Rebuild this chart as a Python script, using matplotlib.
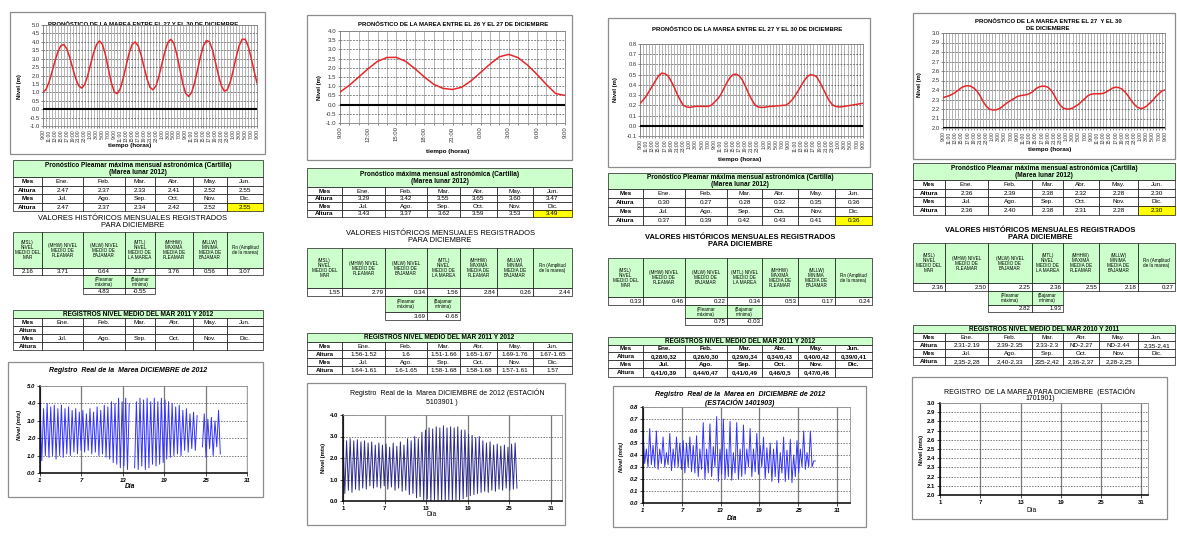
import numpy as np
import matplotlib.pyplot as plt
from matplotlib.patches import Rectangle

plt.rcParams['font.family'] = ['Liberation Sans', 'DejaVu Sans']

W, H = 1177, 540
VERDE = '#ccffcc'
AMARILLO = '#ffff00'

# ---------------- datos ----------------
meses_1 = ["Ene.", "Feb.", "Mar.", "Abr.", "May.", "Jun."]
meses_2 = ["Jul.", "Ago.", "Sep.", "Oct.", "Nov.", "Dic."]

# pronóstico horario (m) desde las 9:00
pron_a = [1.02, 1.17, 1.59, 2.19, 2.84, 3.41, 3.77, 3.84, 3.59, 3.08, 2.43, 1.82, 1.39,
          1.25, 1.46, 1.97, 2.65, 3.33, 3.84, 4.05, 3.85, 3.24, 2.39, 1.56, 1.02, 0.92,
          1.22, 1.84, 2.61, 3.34, 3.84, 4.00, 3.77, 3.22, 2.50, 1.80, 1.30, 1.15, 1.38,
          1.95, 2.69, 3.42, 3.96, 4.15, 3.92, 3.27, 2.41, 1.55, 0.94, 0.75, 0.99, 1.56,
          2.34, 3.14, 3.77, 4.08, 4.00, 3.54, 2.81, 2.03, 1.39, 1.07, 1.15, 1.60, 2.31,
          3.10, 3.77, 4.15, 4.15, 3.76, 3.08, 2.28, 1.56]
pron_b = [0.68, 1.05, 1.50, 1.95, 2.35, 2.56, 2.57, 2.35, 1.95, 1.50, 1.10, 0.88, 0.82,
          0.95, 1.30, 1.75, 2.20, 2.60, 2.73, 2.55, 2.15, 1.65, 1.10, 0.60, 0.50]
pron_c = [0.22, 0.25, 0.29, 0.34, 0.39, 0.44, 0.49, 0.515, 0.51, 0.49, 0.44, 0.38, 0.31,
          0.25, 0.20, 0.185, 0.18, 0.185, 0.19, 0.19, 0.19, 0.19, 0.19, 0.20, 0.23, 0.26,
          0.30, 0.36, 0.42, 0.47, 0.50, 0.505, 0.49, 0.45, 0.39, 0.32, 0.26, 0.21, 0.185,
          0.18, 0.18, 0.185, 0.19, 0.19, 0.195, 0.195, 0.20, 0.20, 0.22, 0.25, 0.29, 0.34,
          0.39, 0.44, 0.48, 0.50, 0.495, 0.48, 0.43, 0.37, 0.31, 0.25, 0.21, 0.19, 0.185,
          0.185, 0.19, 0.195, 0.20, 0.205, 0.21, 0.215, 0.22]
pron_d = [2.32, 2.33, 2.34, 2.355, 2.375, 2.40, 2.425, 2.44, 2.445, 2.44, 2.42, 2.39,
          2.34, 2.28, 2.23, 2.20, 2.19, 2.19, 2.20, 2.22, 2.245, 2.27, 2.29, 2.31, 2.33,
          2.34, 2.345, 2.35, 2.36, 2.38, 2.41, 2.43, 2.44, 2.44, 2.43, 2.40, 2.35, 2.29,
          2.24, 2.21, 2.20, 2.20, 2.21, 2.23, 2.25, 2.28, 2.31, 2.34, 2.355, 2.36, 2.36,
          2.36, 2.365, 2.38, 2.40, 2.42, 2.43, 2.425, 2.41, 2.38, 2.34, 2.29, 2.25, 2.22,
          2.205, 2.21, 2.23, 2.26, 2.29, 2.33, 2.36, 2.39, 2.40]

# pleamar máxima mensual (Cartilla)
cartilla_a = [2.47, 2.37, 2.33, 2.41, 2.52, 2.55, 2.47, 2.37, 2.34, 2.42, 2.52, 2.55]
cartilla_b = [3.29, 3.42, 3.55, 3.65, 3.60, 3.47, 3.43, 3.37, 3.62, 3.59, 3.53, 3.49]
cartilla_c = [0.30, 0.27, 0.28, 0.32, 0.35, 0.36, 0.37, 0.39, 0.42, 0.43, 0.41, 0.36]
cartilla_d = [2.36, 2.39, 2.38, 2.32, 2.28, 2.30, 2.36, 2.40, 2.38, 2.31, 2.28, 2.30]

# valores históricos de diciembre: MSL, MHW, MLW, MTL, MHHW, MLLW, Rn
hist_a = [2.16, 3.71, 0.64, 2.17, 3.76, 0.56, 3.07]
hist_b = [1.55, 2.79, 0.34, 1.56, 2.84, 0.26, 2.44]
hist_c = [0.33, 0.46, 0.22, 0.34, 0.53, 0.17, 0.24]
hist_d = [2.36, 2.50, 2.25, 2.36, 2.55, 2.18, 0.27]
# pleamar máxima, bajamar mínima
extremos_a = [4.83, -0.55]
extremos_b = [3.69, -0.68]
extremos_c = [0.75, -0.03]
extremos_d = [2.82, 1.93]

# nivel medio del mar por mes
nm_a = [""] * 12
nm_b = ["1.56-1.52", "1.6", "1.51-1.66", "1.65-1.67", "1.69-1.76", "1.67-1.65",
        "1.64-1.61", "1.6-1.65", "1.58-1.68", "1.58-1.68", "1.57-1.61", "1.57"]
nm_c = ["0,28/0,32", "0,26/0,30", "0,29/0,34", "0,34/0,43", "0,40/0,42", "0,39/0,41",
        "0,41/0,39", "0,44/0,47", "0,41/0,49", "0,46/0,5", "0,47/0,46", ""]
nm_d = ["2.31-2.19", "2.39-2.35", "2.33-2.3", "ND-2.27", "ND-2.44", "2,35-2,41",
        "2,35-2,28", "2,40-2,33", "235-2,42", "2,36-2,37", "2,28-2,25", ""]

# registro real de diciembre: pleamares y bajamares sucesivas (m)
nan = np.nan
alta_a = [4.0, 3.7, 4.0, 3.8, 3.9, 3.7, 3.9, 3.7, 3.8, 3.6, 3.7, 3.5, 3.6, 3.4, 3.7, 3.5, 3.8,
          3.6, 3.9, 3.8, 4.1, 4.0, 4.3, 4.1, 4.3, 4.0, nan, 4.1, 4.3, 4.2, 4.3, 4.1, 4.3, 4.1,
          4.3, 4.2, 4.1, 4.0, 3.8, 3.9, 3.6, 3.7, 3.4, 3.5, 3.3, nan, 3.4, 3.1, 3.2, 3.0, 3.6]
baja_a = [0.7, 1.0, 0.9, 1.0, 0.8, 1.0, 0.9, 1.1, 1.0, 1.2, 1.1, 1.3, 1.2, 1.3, 1.1, 1.2, 1.0,
          1.1, 0.9, 0.8, 0.6, 0.5, 0.3, 0.4, 0.2, nan, 0.3, 0.2, 0.4, 0.2, 0.3, 0.5, 0.4, 0.5,
          0.6, 0.8, 0.9, 1.0, 1.1, 1.0, 1.3, 1.2, 1.4, 1.3, nan, 1.5, 0.9, 1.4, 1.0, 1.5, 1.1]
alta_b = [2.85, 2.8, 2.9, 2.8, 2.85, 2.75, 2.8, 2.7, 2.75, 2.6, 2.7, 2.6, 2.65, 2.5, 2.7, 2.55,
          2.75, 2.6, 2.9, 2.8, 3.0, 2.9, 3.2, 3.3, 3.4, 3.35, 3.45, 3.4, 3.5, 3.4, 3.45, 3.4,
          3.45, 3.3, 3.3, 3.1, 3.05, 2.95, 3.0, 2.8, 2.7, 2.75, 2.6, 2.65, 2.55, 2.6, 2.5,
          2.65, 2.7]
baja_b = [0.35, 0.5, 0.4, 0.55, 0.5, 0.6, 0.55, 0.7, 0.6, 0.65, 0.6, 0.7, 0.55, 0.65, 0.5,
          0.6, 0.45, 0.5, 0.3, 0.35, 0.15, 0.2, 0.05, 0.1, 0.0, 0.05, 0.0, 0.02, 0.0, 0.05,
          0.0, 0.02, 0.05, 0.1, 0.2, 0.25, 0.3, 0.35, 0.4, 0.45, 0.4, 0.5, 0.45, 0.55, 0.5,
          0.6, 0.5, 0.55, 0.6]
alta_c = [0.6, 0.45, 0.62, 0.48, 0.6, 0.45, 0.55, 0.42, 0.58, 0.45, 0.55, 0.5, 0.52, 0.5,
          0.55, 0.48, 0.56, 0.45, 0.67, 0.45, 0.66, 0.47, 0.72, 0.45, 0.7, 0.45, 0.68, 0.42,
          0.67, 0.45, 0.65, 0.45, 0.62, 0.45, 0.58, 0.48, 0.55, 0.46, 0.5, 0.45, 0.52, 0.42,
          0.55, 0.44, 0.53, 0.4, 0.52, 0.45, 0.6, 0.42, 0.6, 0.35]
baja_c = [0.33, 0.3, 0.32, 0.3, 0.28, 0.33, 0.3, 0.32, 0.27, 0.3, 0.3, 0.28, 0.25, 0.3,
          0.26, 0.25, 0.22, 0.28, 0.2, 0.25, 0.22, 0.3, 0.18, 0.24, 0.2, 0.22, 0.19, 0.25,
          0.2, 0.22, 0.24, 0.3, 0.22, 0.26, 0.24, 0.3, 0.2, 0.25, 0.18, 0.22, 0.17, 0.25,
          0.18, 0.2, 0.17, 0.22, 0.25, 0.3, 0.28, 0.3, 0.3, 0.35]

cab_hist = ["(MSL)\nNIVEL\nMEDIO DEL\nMAR", "(MHW) NIVEL\nMEDIO DE\nPLEAMAR",
            "(MLW) NIVEL\nMEDIO DE\nBAJAMAR", "(MTL)\nNIVEL\nMEDIO DE\nLA MAREA",
            "(MHHW)\nMAXIMA\nMEDIA DE\nPLEAMAR", "(MLLW)\nMINIMA\nMEDIA DE\nBAJAMAR",
            "Rn (Amplitud\nde la marea)"]
cab_hist_c = cab_hist[:3] + ["(MTL) NIVEL\nMEDIO DE\nLA MAREA"] + cab_hist[4:]
cab_extremos = ["(Pleamar\nmáxima)", "(Bajamar\nmínima)"]

# ---------------- figura ----------------
fig = plt.figure(figsize=(W / 100, H / 100), dpi=100)
canvas = fig.add_axes([0, 0, 1, 1])
canvas.set_xlim(0, W)
canvas.set_ylim(H, 0)
canvas.axis('off')


def px_axes(x0, y0, x1, y1):
    return fig.add_axes([x0 / W, 1 - y1 / H, (x1 - x0) / W, (y1 - y0) / H])


def txt(x, y, s, size=4.5, weight='normal', style='normal', rot=0, ha='center'):
    canvas.text(x, y, s, ha=ha, va='center', fontsize=size, fontweight=weight,
                fontstyle=style, rotation=rot, linespacing=1.05)


def cell(x0, y0, x1, y1, s='', fc='white', size=4.5, weight='normal', ha='center'):
    canvas.add_patch(Rectangle((x0, y0), x1 - x0, y1 - y0, fc=fc, ec='black', lw=0.45))
    if s:
        tx = {'center': (x0 + x1) / 2, 'right': x1 - 1.5, 'left': x0 + 1.5}[ha]
        canvas.text(tx, (y0 + y1) / 2 + 0.3, s, ha=ha, va='center', fontsize=size,
                    fontweight=weight, linespacing=1.0)


def frame(box):
    x0, y0, x1, y1 = box
    canvas.add_patch(Rectangle((x0, y0), x1 - x0, y1 - y0, fc='white', ec='#8c8c8c', lw=0.9))


def forecast(p, nivel, ymin, ymax, ystep, xstep, labelsize):
    frame(p['frame'])
    horas = np.arange(len(nivel))
    ax = px_axes(*p['plot'])
    ax.plot(horas, nivel, color='#e8262a', lw=1.1, zorder=4)
    ax.set_xlim(horas[0], horas[-1])
    ax.set_ylim(ymin, ymax)
    yt = np.arange(ymin, ymax + ystep / 2, ystep)
    ax.set_yticks(yt)
    ax.set_yticklabels([f"{v:.1f}" for v in yt], fontsize=p.get('ysize', 4.0))
    xt = horas[::xstep]
    ax.set_xticks(xt)
    ax.set_xticklabels([f"{(9 + h) % 24}:00" for h in xt], rotation=90, fontsize=labelsize)
    ax.set_xticks(horas, minor=True)
    ax.tick_params(which='both', length=1.5, width=0.4, pad=1, colors='#333333')
    ax.grid(which='both', axis='x', color='#8a8a8a', lw=0.45)
    ax.grid(which='major', axis='y', color='#404040', lw=0.45, ls=(0, (3, 2)))
    ax.axhline(0 if ymin < 0 else ymin, color='black', lw=1.5, zorder=3)
    ax.set_axisbelow(True)
    for s in ax.spines.values():
        s.set_color('#808080')
        s.set_linewidth(0.6)
    for (x, y, s) in p['titulo']:
        txt(x, y, s, size=4.3, weight='bold')
    txt(*p['xlab'], 'tiempo (horas)', size=4.5, weight='bold')
    txt(*p['ylab'], 'Nivel (m)', size=4.2, weight='bold', rot=90)


def registro(p, alta, baja, ymin, ymax, ystep, color, estilo):
    frame(p['frame'])
    ax = px_axes(*p['plot'])
    if alta is not None:
        t_alta = 1 + np.arange(len(alta)) * 0.5175
        t = np.column_stack([t_alta, t_alta + 0.2588]).ravel()
        y = np.column_stack([alta, baja]).ravel()
        ax.plot(t, y, color=color, lw=0.7)
    ax.set_xlim(1, p['xmax'])
    ax.set_ylim(ymin, ymax)
    ax.set_xticks([1, 7, 13, 19, 25, 31])
    yt = np.arange(ymin, ymax + ystep / 2, ystep)
    ax.set_yticks(yt)
    ax.set_yticklabels([f"{v:.1f}" for v in yt])
    ax.tick_params(labelsize=4.3, length=2, width=0.5, pad=1.5)
    for lbl in ax.get_xticklabels() + ax.get_yticklabels():
        lbl.set_fontweight('bold')
        lbl.set_fontstyle(estilo)
    ax.grid(axis='x', color='#7a7a7a', lw=0.9)
    ax.grid(axis='y', color='#404040', lw=0.5, ls=(0, (2, 2)))
    ax.set_axisbelow(True)
    for k, s in ax.spines.items():
        if k in ('left', 'bottom'):
            s.set_color('black')
            s.set_linewidth(1.1)
        else:
            s.set_color('#909090')
            s.set_linewidth(0.6)
    for (x, y, s) in p['titulo']:
        txt(x, y, s, size=5.0, weight=p['tw'], style=estilo)
    txt(*p['xlab'], 'Día', size=4.8, weight=p['tw'], style=estilo)
    txt(*p['ylab'], 'Nivel (mts)', size=4.2, weight='bold', style=estilo, rot=90)


def tablas(p, titulo1, cartilla, cabeceras, hist, extremos, titulo3, nivel_medio):
    xs = p['cols']
    # pronóstico pleamar máxima mensual
    t0, t1, *r = p['t1']
    cell(xs[0], t0, xs[-1], t1, titulo1, fc=VERDE, size=4.7, weight='bold')
    filas = [["Mes"] + meses_1, ["Altura"] + [f"{v:.2f}" for v in cartilla[:6]],
             ["Mes"] + meses_2, ["Altura"] + [f"{v:.2f}" for v in cartilla[6:]]]
    for i, fila in enumerate(filas):
        for j, s in enumerate(fila):
            fc = AMARILLO if (i == 3 and j == 6) else 'white'
            cell(xs[j], r[i], xs[j + 1], r[i + 1], s, fc=fc,
                 weight='bold' if j == 0 else 'normal', size=4.6)
    # valores históricos
    txt(p['hx'], p['hy'], "VALORES HISTÓRICOS MENSUALES REGISTRADOS\nPARA DICIEMBRE",
        size=5.4, weight=p['hw'])
    h0, h1, v1, s1, e1 = p['t2']
    for j in range(7):
        cell(xs[j], h0, xs[j + 1], h1, cabeceras[j], fc=VERDE, size=3.3)
        cell(xs[j], h1, xs[j + 1], v1, f"{hist[j]:.2f}", size=4.4, ha=p['ha2'])
    for k, j in enumerate((2, 3)):
        cell(xs[j], v1, xs[j + 1], s1, cab_extremos[k], fc=VERDE, size=3.3)
        cell(xs[j], s1, xs[j + 1], e1, f"{extremos[k]:.2f}", size=4.4, ha=p['ha2'])
    # nivel medio del mar
    t0, t1, *r = p['t3']
    cell(xs[0], t0, xs[-1], t1, titulo3, fc=VERDE, size=4.7, weight='bold')
    filas = [["Mes"] + meses_1, ["Altura"] + nivel_medio[:6],
             ["Mes"] + meses_2, ["Altura"] + nivel_medio[6:]]
    for i, fila in enumerate(filas):
        for j, s in enumerate(fila):
            w = 'bold' if (j == 0 or p['bold3']) else 'normal'
            cell(xs[j], r[i], xs[j + 1], r[i + 1], s, weight=w, size=4.5)


# ---------------- posiciones (px) ----------------
col_a = dict(frame=(10, 12, 265, 154), plot=(43, 25, 257, 126), ysize=4.2,
             titulo=[(143, 24, "PRONÓSTICO DE LA MAREA ENTRE EL 27 Y EL 30 DE DICIEMBRE")],
             xlab=(130, 146), ylab=(20, 87),
             cols=[13, 42, 83, 125, 155, 193, 227, 263],
             t1=[160, 177, 177, 185.5, 194, 202.5, 211], hx=133, hy=222, hw='normal',
             t2=[232, 268, 275, 288, 294], ha2='center',
             t3=[310, 318, 318, 326, 334, 342, 350], bold3=False)
reg_a = dict(frame=(8, 362, 263, 497), plot=(40, 386, 247, 473), xmax=31,
             titulo=[(128, 370, "Registro  Real de la  Marea DICIEMBRE de 2012")],
             tw='bold', xlab=(130, 487), ylab=(19, 425))

col_b = dict(frame=(307, 15, 572, 160), plot=(340, 31, 565, 123), ysize=4.4,
             titulo=[(453, 24, "PRONÓSTICO DE LA MAREA ENTRE EL 26 Y EL 27 DE DICIEMBRE")],
             xlab=(448, 151), ylab=(319, 88),
             cols=[307, 342, 385, 427, 460, 497, 533, 572],
             t1=[168, 187, 187, 194.5, 202, 209.5, 217], hx=440, hy=237, hw='normal',
             t2=[248, 288, 296, 312, 320], ha2='right',
             t3=[333, 342, 342, 350, 358, 366, 374], bold3=False)
reg_b = dict(frame=(307, 383, 565, 525), plot=(343, 415, 562, 501), xmax=32.6,
             titulo=[(447, 393, "Registro  Real de la  Marea DICIEMBRE de 2012 (ESTACIÓN"),
                     (442, 402, "5103901 )")],
             tw='normal', xlab=(432, 515), ylab=(323, 458))

col_c = dict(frame=(608, 18, 870, 167), plot=(640, 44, 863, 136), ysize=4.2,
             titulo=[(747, 29, "PRONÓSTICO DE LA MAREA ENTRE EL 27 Y EL 30 DE DICIEMBRE")],
             xlab=(740, 160), ylab=(615, 90),
             cols=[608, 643, 685, 727, 762, 798, 835, 872],
             t1=[173, 189, 189, 198, 207, 216, 225], hx=740, hy=241, hw='bold',
             t2=[258, 297, 305, 318, 325], ha2='right',
             t3=[337, 345, 345, 352, 360, 368, 377], bold3=True)
reg_c = dict(frame=(613, 386, 866, 527), plot=(643, 407, 850, 503), xmax=33,
             titulo=[(740, 395, "Registro  Real de la  Marea en  DICIEMBRE de 2012"),
                     (740, 403, "(ESTACIÓN 1401903)")],
             tw='bold', xlab=(732, 518), ylab=(622, 457))

col_d = dict(frame=(913, 13, 1175, 159), plot=(943, 33, 1165, 128), ysize=4.2,
             titulo=[(1048, 21, "PRONÓSTICO DE LA MAREA ENTRE EL 27  Y EL 30"),
                     (1048, 28, "DE DICIEMBRE")],
             xlab=(1050, 150), ylab=(920, 85),
             cols=[913, 945, 988, 1032, 1063, 1099, 1138, 1175],
             t1=[163, 180, 180, 189, 197, 206, 215], hx=1040, hy=234, hw='bold',
             t2=[243, 283, 291, 305, 312], ha2='right',
             t3=[325, 333, 333, 341, 349, 357, 365], bold3=False)
reg_d = dict(frame=(912, 377, 1167, 519), plot=(940, 403, 1148, 495), xmax=32,
             titulo=[(1040, 392, "REGISTRO  DE LA MAREA PARA DICIEMBRE  (ESTACIÓN"),
                     (1040, 399, "1701901)")],
             tw='normal', xlab=(1032, 510), ylab=(922, 450))

tit_cart = "Pronóstico Pleamar máxima mensual astronómica (Cartilla)\n(Marea lunar 2012)"
tit_cart_b = "Pronóstico máxima mensual astronómica (Cartilla)\n(Marea lunar 2012)"

forecast(col_a, pron_a, -1.0, 5.0, 0.5, 2, 3.6)
tablas(col_a, tit_cart, cartilla_a, cab_hist, hist_a, extremos_a,
       "REGISTROS NIVEL MEDIO DEL MAR 2011 Y 2012", nm_a)
registro(reg_a, alta_a, baja_a, 0.0, 5.0, 1.0, '#3333ff', 'italic')

forecast(col_b, pron_b, -1.0, 4.0, 0.5, 3, 4.3)
tablas(col_b, tit_cart_b, cartilla_b, cab_hist, hist_b, extremos_b,
       "REGISTROS NIVEL MEDIO DEL MAR 2011 Y 2012", nm_b)
registro(reg_b, alta_b, baja_b, 0.0, 4.0, 1.0, '#2b2b8f', 'normal')

forecast(col_c, pron_c, -0.1, 0.8, 0.1, 2, 3.6)
tablas(col_c, tit_cart, cartilla_c, cab_hist_c, hist_c, extremos_c,
       "REGISTROS NIVEL MEDIO DEL MAR 2011 Y 2012", nm_c)
registro(reg_c, alta_c, baja_c, 0.0, 0.8, 0.1, '#3333ff', 'italic')

forecast(col_d, pron_d, 2.0, 3.0, 0.1, 2, 3.6)
tablas(col_d, tit_cart, cartilla_d, cab_hist, hist_d, extremos_d,
       "REGISTROS NIVEL MEDIO DEL MAR 2010 Y 2011", nm_d)
registro(reg_d, None, None, 2.0, 3.0, 0.1, '#3333ff', 'normal')

fig.savefig('out.png', dpi=100)
